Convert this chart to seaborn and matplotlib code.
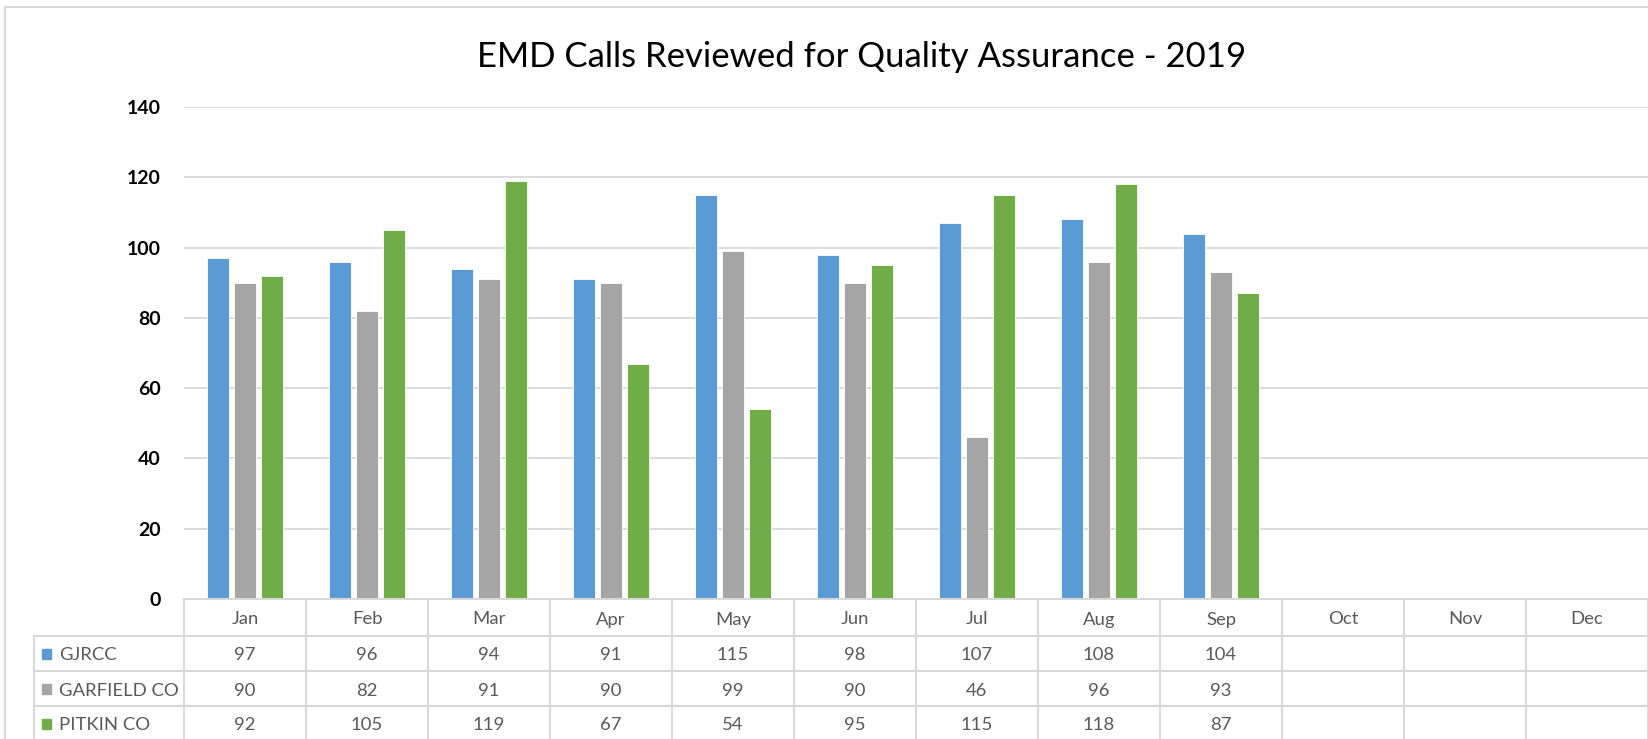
import numpy as np
import pandas as pd
import matplotlib
matplotlib.use("Agg")
import matplotlib.pyplot as plt
import seaborn as sns
from matplotlib.transforms import blended_transform_factory
from matplotlib.lines import Line2D
from matplotlib.patches import Rectangle

# ---------------- data ----------------
months = ["Jan", "Feb", "Mar", "Apr", "May", "Jun", "Jul", "Aug", "Sep", "Oct", "Nov", "Dec"]
series_names = ["GJRCC", "GARFIELD CO", "PITKIN CO"]
gjrcc = [97, 96, 94, 91, 115, 98, 107, 108, 104]
garfield = [90, 82, 91, 90, 99, 90, 46, 96, 93]
pitkin = [92, 105, 119, 67, 54, 95, 115, 118, 87]
y_ticks = [0, 20, 40, 60, 80, 100, 120, 140]
title = "EMD Calls Reviewed for Quality Assurance - 2019"
colors = ["#5B9BD5", "#A5A5A5", "#70AD47"]

series_values = [gjrcc, garfield, pitkin]
rows = []
for name, vals in zip(series_names, series_values):
    for m, v in zip(months, vals):
        rows.append({"Month": m, "Series": name, "Calls": v})
df = pd.DataFrame(rows)

# ---------------- style ----------------
sns.set_theme(style="white")
plt.rcParams['font.family'] = ['Lato', 'DejaVu Sans']

W, H = 1648, 739
fig = plt.figure(figsize=(W / 100, H / 100), dpi=100)
fig.patch.set_facecolor("white")

ax_left, ax_right, ax_top, ax_bottom = 184, 1648, 107, 599
ax = fig.add_axes([ax_left / W, 1 - ax_bottom / H, (ax_right - ax_left) / W, (ax_bottom - ax_top) / H])

sns.barplot(data=df, x="Month", y="Calls", hue="Series", order=months,
            hue_order=series_names, palette=colors, width=0.664, gap=0.22,
            saturation=1, ax=ax, legend=False, edgecolor="white", linewidth=0.6)

ax.set_xlim(-0.5, len(months) - 0.5)
ax.set_ylim(0, 140)
ax.set_yticks(y_ticks)
ax.set_yticklabels([str(t) for t in y_ticks], fontsize=14, fontweight="bold", color="black")
ax.set_xticks([])
ax.set_xlabel("")
ax.set_ylabel("")
ax.tick_params(axis="y", length=0, pad=17)
ax.grid(axis="y", color="#D9D9D9", linewidth=1.3)
ax.set_axisbelow(True)
for s in ax.spines.values():
    s.set_visible(False)

line_col = "#D9D9D9"
text_col = "#595959"
fy = lambda y: 1 - y / H
fx = lambda x: x / W
tfs = 13.3
dy = 2  # small downward offset of table text

# figure border
fig.add_artist(Line2D([fx(5), fx(5)], [fy(7), 0], color=line_col, lw=1.5))
fig.add_artist(Line2D([fx(5), 1], [fy(7), fy(7)], color=line_col, lw=1.5))

# title
fig.text(fx(862), fy(67), title, ha="center", va="baseline", fontsize=25, color="black")

# data table
tr = blended_transform_factory(ax.transData, fig.transFigure)
row_edges = [599, 636, 671, 706, 741]
fig.add_artist(Line2D([fx(ax_left), 1], [fy(599), fy(599)], color=line_col, lw=1.5))
for y in row_edges[1:4]:
    fig.add_artist(Line2D([fx(34), 1], [fy(y), fy(y)], color=line_col, lw=1.5))
fig.add_artist(Line2D([fx(34), fx(34)], [fy(636), 0], color=line_col, lw=1.5))
for k in range(len(months) + 1):
    ax.add_line(Line2D([k - 0.5, k - 0.5], [fy(599), 0], color=line_col, lw=1.5,
                       transform=tr, clip_on=False))

# header row
hy = (row_edges[0] + row_edges[1]) / 2 + dy
for i, m in enumerate(months):
    ax.text(i, fy(hy), m, transform=tr, ha="center", va="center", fontsize=tfs, color=text_col)

# series rows
for r, (name, vals, c) in enumerate(zip(series_names, series_values, colors)):
    cy = (row_edges[r + 1] + row_edges[r + 2]) / 2
    fig.patches.append(Rectangle((fx(42), fy(cy + 5)), 9 / W, 10 / H, color=c,
                                 transform=fig.transFigure, figure=fig))
    fig.text(fx(59), fy(cy + dy), name, ha="left", va="center", fontsize=tfs, color=text_col)
    for i, v in enumerate(vals):
        ax.text(i, fy(cy + dy), str(v), transform=tr, ha="center", va="center",
                fontsize=tfs, color=text_col)

fig.savefig("out.png", dpi=100, facecolor="white")
